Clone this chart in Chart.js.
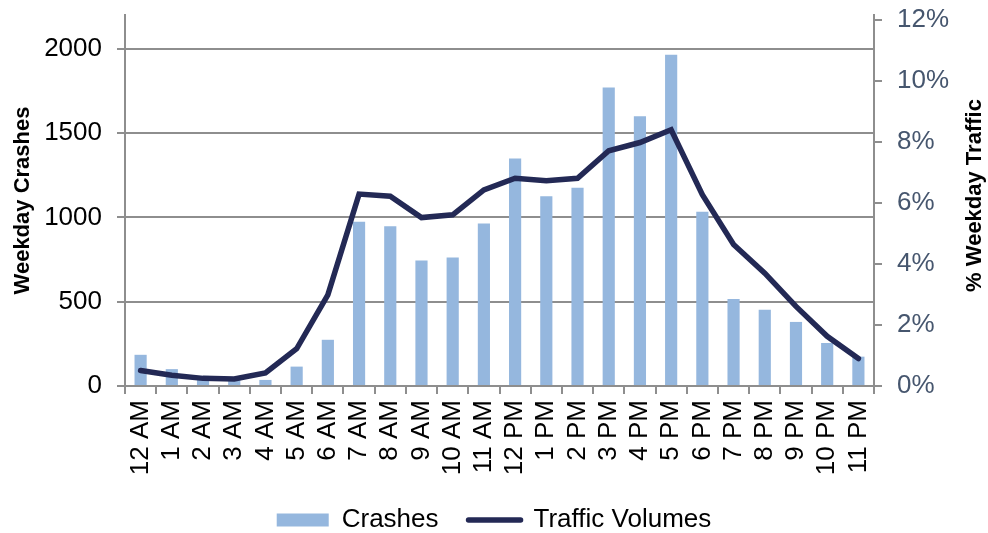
<!DOCTYPE html>
<html>
<head>
<meta charset="utf-8">
<script src="https://cdn.jsdelivr.net/npm/chart.js@4.4.1/dist/chart.umd.min.js"></script>
<style>
  html, body { margin: 0; padding: 0; background: #fff; }
  #wrap { width: 988px; height: 533px; }
</style>
</head>
<body>
<div id="wrap"><canvas id="chart"></canvas></div>
<script>
// hour of day
var hours = ['12 AM', '1 AM', '2 AM', '3 AM', '4 AM', '5 AM', '6 AM', '7 AM', '8 AM', '9 AM', '10 AM', '11 AM',
             '12 PM', '1 PM', '2 PM', '3 PM', '4 PM', '5 PM', '6 PM', '7 PM', '8 PM', '9 PM', '10 PM', '11 PM'];

// weekday crashes (left axis)
var crashes = [185, 100, 60, 45, 36, 115, 274, 974, 948, 744, 762, 964,
               1349, 1125, 1175, 1770, 1599, 1964, 1034, 516, 452, 380, 255, 174];

// share of weekday traffic, percent (right axis)
var traffic = [0.51, 0.35, 0.25, 0.23, 0.43, 1.22, 2.99, 6.29, 6.22, 5.52, 5.61, 6.43,
               6.81, 6.73, 6.81, 7.71, 7.98, 8.40, 6.27, 4.64, 3.70, 2.61, 1.63, 0.90];

var crashTicks = [0, 500, 1000, 1500, 2000];
var trafficTicks = [0, 2, 4, 6, 8, 10, 12];

var FONT = '"Liberation Sans", Arial, sans-serif';
var AXIS_GREY = '#8e8e8e';
var PAD_BOTTOM = -10;

// right axis title reads bottom-to-top like the left one
var rightTitle = {
  id: 'rightTitle',
  afterDraw: function(chart) {
    var s = chart.scales.y1;
    var ctx = chart.ctx;
    ctx.save();
    ctx.translate(s.right - 13, (s.top + s.bottom) / 2 - 5);
    ctx.rotate(-Math.PI / 2);
    ctx.font = 'bold 22px ' + FONT;
    ctx.fillStyle = '#000';
    ctx.textAlign = 'center';
    ctx.textBaseline = 'middle';
    ctx.fillText('% Weekday Traffic', 0, 0);
    ctx.restore();
  }
};

// keep the tick labels from pushing the plot area down
function noVerticalPad(scale) {
  scale.paddingTop = 0;
  scale.paddingBottom = 0;
}

var ctx = document.getElementById('chart').getContext('2d');
var chart = new Chart(ctx, {
  data: {
    labels: hours,
    datasets: [{
      type: 'bar',
      label: 'Crashes',
      data: crashes,
      yAxisID: 'y',
      backgroundColor: '#95b7de',
      borderWidth: 0,
      categoryPercentage: 1,
      barPercentage: 0.39,
      order: 2
    }, {
      type: 'line',
      label: 'Traffic Volumes',
      data: traffic,
      yAxisID: 'y1',
      borderColor: '#232955',
      backgroundColor: '#232955',
      borderWidth: 5.5,
      borderCapStyle: 'round',
      borderJoinStyle: 'miter',
      tension: 0,
      pointRadius: 0,
      order: 1
    }]
  },
  options: {
    responsive: true,
    maintainAspectRatio: false,
    animation: false,
    layout: { padding: { top: 15, left: 0, right: 0, bottom: PAD_BOTTOM } },
    plugins: {
      tooltip: { enabled: false },
      legend: {
        position: 'bottom',
        labels: {
          font: { family: FONT, size: 26 },
          color: '#000',
          usePointStyle: true,
          pointStyleWidth: 52,
          boxHeight: 13,
          padding: 30,
          sort: function(a, b) { return a.datasetIndex - b.datasetIndex; },
          generateLabels: function(chart) {
            var items = Chart.defaults.plugins.legend.labels.generateLabels(chart);
            items.forEach(function(it) {
              if (it.datasetIndex === 0) {
                it.pointStyle = 'rect';
                it.lineWidth = 0;
              } else {
                it.pointStyle = 'line';
                it.lineWidth = 5.5;
                it.lineCap = 'round';
              }
            });
            return items;
          }
        }
      }
    },
    scales: {
      x: {
        offset: true,
        grid: { display: true, offset: true, drawOnChartArea: false, drawTicks: true, tickLength: 8, color: AXIS_GREY, lineWidth: 2 },
        border: { display: true, color: AXIS_GREY, width: 2 },
        ticks: { font: { family: FONT, size: 26 }, color: '#000', minRotation: 90, maxRotation: 90, padding: 6, autoSkip: false },
        afterFit: function(scale) {
          scale.height = 533 - 386 - scale.chart.legend.height - PAD_BOTTOM;
        }
      },
      y: {
        position: 'left',
        min: 0,
        max: 2200,
        afterBuildTicks: function(scale) {
          scale.ticks = crashTicks.map(function(v) { return { value: v }; });
        },
        grid: { color: AXIS_GREY, lineWidth: 2, tickLength: 8, drawTicks: true },
        border: { display: true, color: AXIS_GREY, width: 2 },
        ticks: { font: { family: FONT, size: 26 }, color: '#000', padding: 15,
                 callback: function(v) { return String(v); } },
        title: { display: true, text: 'Weekday Crashes', font: { family: FONT, size: 22, weight: 'bold' }, color: '#000', padding: { top: 10, bottom: 0 } },
        afterFit: function(scale) { scale.width = 125; noVerticalPad(scale); }
      },
      y1: {
        position: 'right',
        min: 0,
        max: 12.16,
        afterBuildTicks: function(scale) {
          scale.ticks = trafficTicks.map(function(v) { return { value: v }; });
        },
        grid: { drawOnChartArea: false, color: AXIS_GREY, lineWidth: 2, tickLength: 8 },
        border: { display: true, color: AXIS_GREY, width: 2 },
        ticks: { font: { family: FONT, size: 26 }, color: '#46566e', padding: 15,
                 callback: function(v) { return v + '%'; } },
        afterFit: function(scale) { scale.width = 988 - 874; noVerticalPad(scale); }
      }
    }
  },
  plugins: [rightTitle]
});
</script>
</body>
</html>
